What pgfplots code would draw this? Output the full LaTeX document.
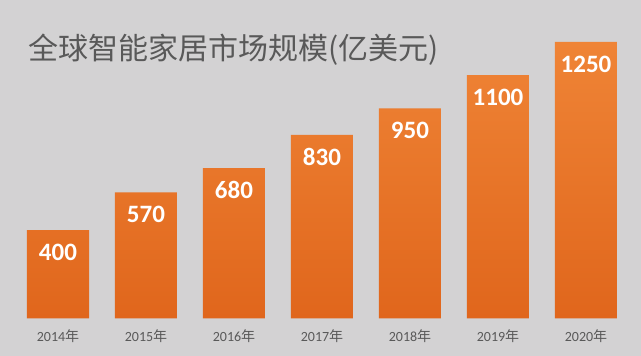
\documentclass[border=0pt]{standalone}
\usepackage{pgfplots}
\pgfplotsset{compat=1.18}
\usepackage{fontspec}
\setmainfont{Carlito}
\newfontfamily\cjk{Noto Sans CJK SC}
\definecolor{bg}{RGB}{211,210,211}
\definecolor{bartop}{RGB}{239,132,54}
\definecolor{barbot}{RGB}{224,102,28}
\definecolor{txt}{RGB}{89,89,89}
\newcommand{\yr}[1]{#1{\cjk 年}}
\begin{document}
\begin{tikzpicture}
\fill[bg] (0,0) rectangle (641pt,356pt);
\node[anchor=west, text=txt, font=\cjk\fontsize{30}{34}\selectfont, inner sep=0pt] at (28pt,306pt) {全球智能家居市场规模(亿美元)};
\begin{axis}[
  at={(14pt,37.5pt)}, anchor=south west,
  scale only axis, width=616pt, height=309.7pt,
  xmin=-0.5, xmax=6.5, ymin=0, ymax=1400,
  axis line style={draw=none}, ytick=\empty,
  xtick={0,...,6}, major tick length=0pt,
  xticklabels={\yr{2014},\yr{2015},\yr{2016},\yr{2017},\yr{2018},\yr{2019},\yr{2020}},
  xticklabel style={anchor=center, yshift=-17.5pt, text=txt, font=\fontsize{14}{16}\selectfont},
  /pgf/number format/.cd, 1000 sep={}, assume math mode=true, /pgfplots/.cd,
  nodes near coords,
  every node near coord/.append style={anchor=center, yshift=-22pt, text=white, font=\bfseries\fontsize{25}{28}\selectfont},
]
\addplot[ybar, bar width=62pt, draw=none, top color=bartop, bottom color=barbot] coordinates {
(0,400) (1,570) (2,680) (3,830) (4,950) (5,1100) (6,1250)};
\end{axis}
\pgfresetboundingbox
\path (0,0) rectangle (641pt,356pt);
\end{tikzpicture}
\end{document}
